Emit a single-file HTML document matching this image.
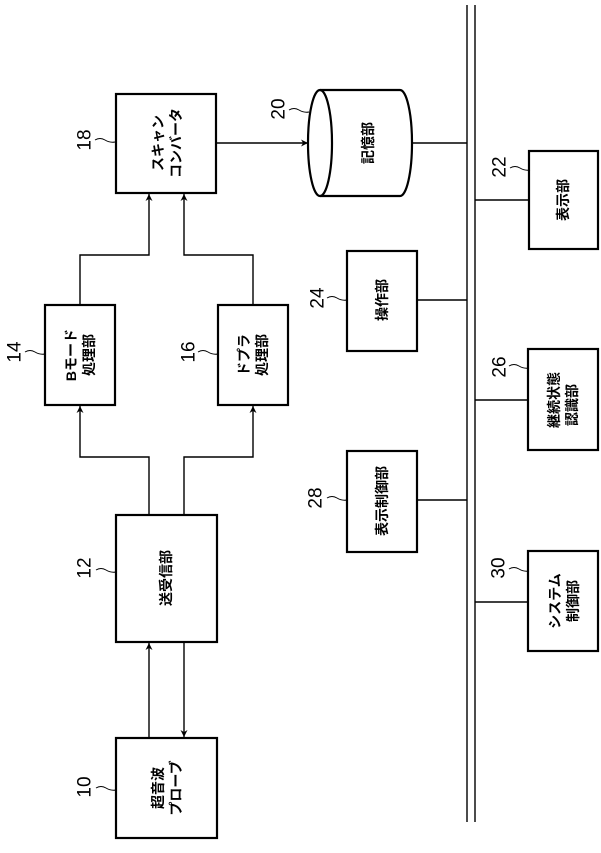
<!DOCTYPE html>
<html><head><meta charset="utf-8"><style>
html,body{margin:0;padding:0;background:#fff}
svg{display:block}
text{font-family:"Liberation Sans","Noto Sans CJK JP",sans-serif;fill:#000}
.b{fill:none;stroke:#000;stroke-width:2.2}
.l{fill:none;stroke:#000;stroke-width:1.4}
.t{fill:none;stroke:#000;stroke-width:1}
.n{font-size:19px}
.j{font-size:14px;font-weight:bold}
</style></head><body>
<svg width="601" height="853" viewBox="0 0 601 853" xmlns="http://www.w3.org/2000/svg">
<defs><marker id="a" viewBox="0 0 10 10" refX="10" refY="5" markerWidth="7" markerHeight="9" orient="auto" markerUnits="userSpaceOnUse"><path d="M0,0L10,5L0,10L3,5z" fill="#000"/></marker></defs>
<!-- bus -->
<line x1="467" y1="5" x2="467" y2="822" class="l"/>
<line x1="475" y1="5" x2="475" y2="822" class="l"/>
<!-- boxes -->
<rect x="116" y="94" width="100" height="99" class="b"/>
<rect x="529" y="151" width="69" height="98" class="b"/>
<rect x="347" y="251" width="70" height="100" class="b"/>
<rect x="45" y="305" width="70" height="100" class="b"/>
<rect x="218" y="305" width="70" height="100" class="b"/>
<rect x="528" y="349" width="70" height="101" class="b"/>
<rect x="347" y="451" width="70" height="101" class="b"/>
<rect x="116" y="515" width="101" height="127" class="b"/>
<rect x="528" y="551" width="70" height="100" class="b"/>
<rect x="116" y="738" width="101" height="100" class="b"/>
<!-- cylinder -->
<path d="M320,90 L400,90 A12,53 0 0 1 400,196 L320,196" class="b"/>
<ellipse cx="320" cy="143" rx="12" ry="53" class="b"/>
<!-- connectors -->
<line x1="216" y1="143" x2="308" y2="143" class="l" marker-end="url(#a)"/>
<line x1="412" y1="143" x2="467" y2="143" class="l"/>
<line x1="475" y1="200" x2="529" y2="200" class="l"/>
<line x1="417" y1="300" x2="467" y2="300" class="l"/>
<line x1="475" y1="400" x2="528" y2="400" class="l"/>
<line x1="417" y1="500" x2="467" y2="500" class="l"/>
<line x1="475" y1="602" x2="528" y2="602" class="l"/>
<polyline points="80,305 80,255 149,255 149,194" class="l" marker-end="url(#a)"/>
<polyline points="253,305 253,255 184,255 184,194" class="l" marker-end="url(#a)"/>
<polyline points="149,515 149,457 80,457 80,406" class="l" marker-end="url(#a)"/>
<polyline points="184,515 184,457 253,457 253,406" class="l" marker-end="url(#a)"/>
<line x1="149" y1="738" x2="149" y2="643" class="l" marker-end="url(#a)"/>
<line x1="184" y1="642" x2="184" y2="737" class="l" marker-end="url(#a)"/>
<!-- tildes -->
<path d="M95,140 q5,-3 10,0 t10,2" class="t"/>
<path d="M289,110 q5,-3 10,0 t10,2" class="t"/>
<path d="M510,168 q5,-3 10,0 t10,2" class="t"/>
<path d="M327,298 q5,-3 10,0 t10,2" class="t"/>
<path d="M25,352 q5,-3 10,0 t10,2" class="t"/>
<path d="M198,352 q5,-3 10,0 t10,2" class="t"/>
<path d="M509,366 q5,-3 10,0 t10,2" class="t"/>
<path d="M327,498 q5,-3 10,0 t10,2" class="t"/>
<path d="M96,570 q5,-3 10,0 t10,2" class="t"/>
<path d="M509,569 q5,-3 10,0 t10,2" class="t"/>
<path d="M96,788 q5,-3 10,0 t10,2" class="t"/>
<!-- numbers -->
<g class="n" text-anchor="middle" dominant-baseline="central">
<text transform="translate(85,140) rotate(-90)">18</text>
<text transform="translate(279,109) rotate(-90)">20</text>
<text transform="translate(500,167) rotate(-90)">22</text>
<text transform="translate(318,298) rotate(-90)">24</text>
<text transform="translate(15,352) rotate(-90)">14</text>
<text transform="translate(189,352) rotate(-90)">16</text>
<text transform="translate(500,367) rotate(-90)">26</text>
<text transform="translate(316,498) rotate(-90)">28</text>
<text transform="translate(85,568) rotate(-90)">12</text>
<text transform="translate(499,568) rotate(-90)">30</text>
<text transform="translate(85,787) rotate(-90)">10</text>
</g>
<!-- labels -->
<g class="j" text-anchor="middle" dominant-baseline="central">
<text transform="translate(158,143) rotate(-90)">スキャン</text>
<text transform="translate(176,143) rotate(-90)">コンバータ</text>
<text transform="translate(368,143) rotate(-90)">記憶部</text>
<text transform="translate(563,200) rotate(-90)">表示部</text>
<text transform="translate(382,300) rotate(-90)">操作部</text>
<text transform="translate(71,355) rotate(-90)">Bモード</text>
<text transform="translate(89,355) rotate(-90)">処理部</text>
<text transform="translate(244,355) rotate(-90)">ドプラ</text>
<text transform="translate(262,355) rotate(-90)">処理部</text>
<text transform="translate(554,400) rotate(-90)">継続状態</text>
<text transform="translate(572,405) rotate(-90)">認識部</text>
<text transform="translate(382,501) rotate(-90)">表示制御部</text>
<text transform="translate(166,578) rotate(-90)">送受信部</text>
<text transform="translate(555,601) rotate(-90)">システム</text>
<text transform="translate(573,601) rotate(-90)">制御部</text>
<text transform="translate(158,788) rotate(-90)">超音波</text>
<text transform="translate(176,788) rotate(-90)">プローブ</text>
</g>
</svg>
</body></html>
